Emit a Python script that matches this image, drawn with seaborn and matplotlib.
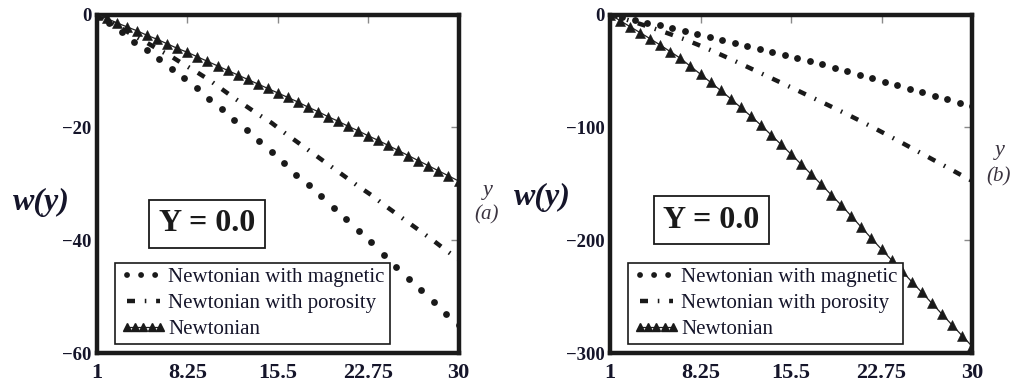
import numpy as np
import matplotlib
matplotlib.use("Agg")
import matplotlib.pyplot as plt
from matplotlib.lines import Line2D
import seaborn as sns

# ---- data -------------------------------------------------------------
# coarse grid (integer y) for the magnetic / porosity curves
Y_INT = list(range(1, 31))
# fine grid for the Newtonian curve (37 samples between 1 and 30)
Y_FINE = np.linspace(1, 30, 37)

# panel (a)
MAG_A = [0, -1.5, -3.1, -4.8, -6.3, -7.9, -9.6, -11.2, -13.0, -14.9,
         -16.8, -18.7, -20.5, -22.5, -24.4, -26.4, -28.4, -30.3, -32.2, -34.3,
         -36.3, -38.3, -40.4, -42.6, -44.7, -46.8, -48.9, -51.0, -53.0, -55.0]
POR_A = [0, -1.2, -2.5, -3.8, -5.0, -6.3, -7.5, -8.9, -10.2, -11.6,
         -13.2, -14.8, -16.3, -17.8, -19.2, -20.9, -22.5, -24.1, -25.7, -27.3,
         -28.9, -30.5, -32.0, -33.7, -35.3, -36.9, -38.5, -40.1, -41.8, -43.4]
NEWT_A = [0, -0.7, -1.5, -2.2, -2.9, -3.7, -4.4, -5.2, -6.0, -6.7,
          -7.5, -8.3, -9.1, -9.9, -10.7, -11.5, -12.3, -13.1, -13.9, -14.7,
          -15.5, -16.4, -17.2, -18.1, -18.9, -19.8, -20.6, -21.5, -22.3, -23.2,
          -24.1, -25.0, -25.9, -26.8, -27.7, -28.6, -29.5]

# panel (b)
MAG_B = [0, -2.4, -4.8, -7.2, -9.7, -12.2, -14.7, -17.2, -19.7, -22.3,
         -24.9, -27.6, -30.3, -33.0, -35.7, -38.5, -41.3, -44.2, -47.1, -50.2,
         -53.3, -56.4, -59.5, -62.6, -65.7, -68.8, -71.9, -75.0, -78.2, -81.5]
POR_B = [0, -3.4, -6.9, -10.5, -14.2, -18.1, -22.1, -26.6, -31.3, -36.2,
         -41.2, -46.4, -51.6, -56.8, -62.0, -67.2, -72.5, -77.8, -83.1, -88.5,
         -94.0, -99.7, -105.5, -111.4, -117.4, -123.4, -129.4, -135.4, -141.5, -147.5]
NEWT_B = [0, -5.4, -10.8, -16.1, -21.5, -27.1, -32.9, -38.8, -45.9, -52.9,
          -60.1, -67.3, -74.6, -82.4, -90.0, -98.0, -106.5, -115.1, -123.7, -132.6,
          -141.5, -150.5, -159.8, -169.0, -178.7, -188.6, -198.4, -208.1, -217.6, -227.1,
          -236.7, -246.2, -255.8, -265.4, -275.0, -284.5, -294.0]

SERIES_LABELS = ["Newtonian with magnetic", "Newtonian with porosity", "Newtonian"]
X_TICKS = [1, 8.25, 15.5, 22.75, 30]
X_TICK_LABELS = ["1", "8.25", "15.5", "22.75", "30"]
Y_TICKS_A = [0, -20, -40, -60]
Y_TICK_LABELS_A = ["0", "\u221220", "\u221240", "\u221260"]
Y_TICKS_B = [0, -100, -200, -300]
Y_TICK_LABELS_B = ["0", "\u2212100", "\u2212200", "\u2212300"]
PARAM_TEXT = "Y = 0.0"
PANEL_TAGS = ["(a)", "(b)"]

# ---- style ------------------------------------------------------------
sns.set_theme(style="white")
plt.rcParams["font.family"] = ["Liberation Serif", "DejaVu Serif"]
SERIF = "Liberation Serif"
POR_DASH = (0, (1.8, 2.2, 0.35, 2.2))
POR_LW = 3.2
INK = "#15152a"

fig = plt.figure(figsize=(10.16, 3.87), dpi=100)
ax_a = fig.add_axes([97 / 1016, 1 - 353 / 387, 361.5 / 1016, 338.5 / 387])
ax_b = fig.add_axes([610 / 1016, 1 - 353 / 387, 362 / 1016, 338.5 / 387])


def draw_panel(ax, mag, por, newt, yticks, yticklabels, param_xy):
    sns.scatterplot(x=Y_INT, y=mag, ax=ax, color="k", s=24, marker="o",
                    edgecolor="k", linewidth=0, zorder=3)
    sns.lineplot(x=Y_INT, y=por, ax=ax, color="k", lw=POR_LW, linestyle=POR_DASH,
                 errorbar=None, zorder=3)
    sns.lineplot(x=Y_FINE, y=newt, ax=ax, color="#222222", lw=0.9, marker="^",
                 markersize=7, markeredgecolor="k", markerfacecolor="k",
                 markeredgewidth=0.4, errorbar=None, zorder=3)

    ax.set_xlim(1, 30)
    ax.set_ylim(yticks[-1], yticks[0])
    ax.set_xticks(X_TICKS)
    ax.set_xticklabels(X_TICK_LABELS, fontsize=16, fontweight="bold",
                       family=SERIF, color=INK)
    ax.set_yticks(yticks)
    ax.set_yticklabels(yticklabels, fontsize=13.5, fontweight="bold",
                       family=SERIF, color=INK)
    ax.tick_params(direction="in", length=6, width=1, color="#8a8a8a",
                   top=True, right=True, pad=4)
    ax.tick_params(axis="x", pad=7)
    ax.set_xlabel("")
    ax.set_ylabel("")
    for sp in ax.spines.values():
        sp.set_visible(True)
        sp.set_color("k")
        sp.set_linewidth(3.2)

    ax.text(param_xy[0], param_xy[1], PARAM_TEXT, transform=ax.transAxes,
            ha="center", va="center", fontsize=23, fontweight="bold",
            family=SERIF, color="k", zorder=6,
            bbox=dict(boxstyle="square,pad=0.3", fc="white", ec="k", lw=1.3))

    handles = [
        Line2D([], [], ls=(0, (0.01, 2.4)), lw=4.2, color="k",
               dash_capstyle="round"),
        Line2D([], [], ls=POR_DASH, lw=POR_LW, color="k"),
        Line2D([], [], ls="-", lw=0.9, marker="^", markersize=5.5, color="k"),
    ]
    leg = ax.legend(handles, SERIES_LABELS, loc="lower left",
                    bbox_to_anchor=(0.05, 0.026), frameon=True, fancybox=False,
                    edgecolor="k", framealpha=1, borderpad=0.25,
                    labelspacing=0.3, handlelength=2.2, handletextpad=0.1,
                    borderaxespad=0, numpoints=5,
                    prop={"family": SERIF, "size": 15})
    leg.get_frame().set_linewidth(1.2)
    leg.set_zorder(7)
    for t in leg.get_texts():
        t.set_color(INK)


draw_panel(ax_a, MAG_A, POR_A, NEWT_A, Y_TICKS_A, Y_TICK_LABELS_A, (0.304, 0.382))
draw_panel(ax_b, MAG_B, POR_B, NEWT_B, Y_TICKS_B, Y_TICK_LABELS_B, (0.280, 0.392))

# axis titles placed beside each frame
for (wx, wy), (yx, yy), (tx, ty), tag in [
    ((0.041, 0.478), (0.480, 0.509), (0.479, 0.444), PANEL_TAGS[0]),
    ((0.534, 0.491), (0.984, 0.610), (0.983, 0.543), PANEL_TAGS[1]),
]:
    fig.text(wx, wy, "w(y)", ha="center", va="center", fontsize=23,
             fontweight="bold", fontstyle="italic", family=SERIF, color=INK)
    fig.text(yx, yy, "y", ha="center", va="center", fontsize=16,
             fontstyle="italic", family=SERIF, color="#3b3440")
    fig.text(tx, ty, tag, ha="center", va="center", fontsize=15,
             fontstyle="italic", family=SERIF, color="#3b3440")

fig.savefig("out.png", dpi=100, facecolor="white")
